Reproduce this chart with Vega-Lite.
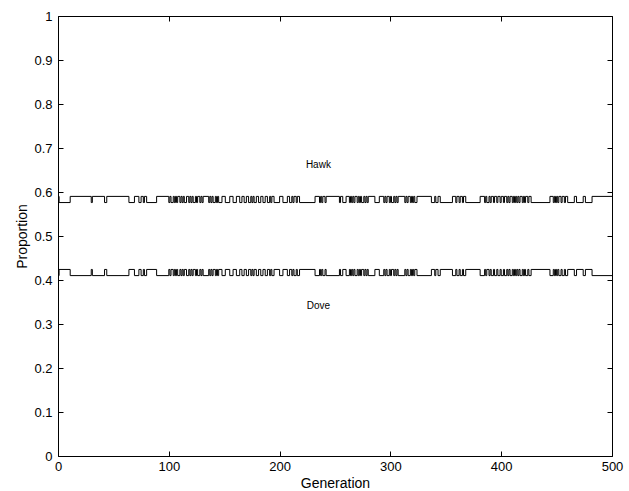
{
  "$schema": "https://vega.github.io/schema/vega-lite/v6.json",
  "width": 554,
  "height": 440,
  "autosize": "none",
  "padding": {"left": 58, "top": 16, "right": 17, "bottom": 35},
  "background": "white",
  "config": {
    "view": {"stroke": "black", "strokeWidth": 1},
    "font": "Liberation Sans",
    "axis": {
      "grid": false,
      "domain": false,
      "tickColor": "black",
      "tickSize": -5,
      "labelColor": "black",
      "labelFont": "Liberation Sans",
      "labelFontSize": 13,
      "titleFont": "Liberation Sans",
      "titleFontSize": 14,
      "titleFontWeight": "normal",
      "titleColor": "black"
    }
  },
  "datasets": {
    "series": [
      {"g": 0, "Hawk": 0.590, "Dove": 0.410},
      {"g": 1, "Hawk": 0.576, "Dove": 0.424},
      {"g": 11, "Hawk": 0.590, "Dove": 0.410},
      {"g": 30, "Hawk": 0.576, "Dove": 0.424},
      {"g": 31, "Hawk": 0.590, "Dove": 0.410},
      {"g": 42, "Hawk": 0.576, "Dove": 0.424},
      {"g": 44, "Hawk": 0.590, "Dove": 0.410},
      {"g": 64, "Hawk": 0.576, "Dove": 0.424},
      {"g": 69, "Hawk": 0.590, "Dove": 0.410},
      {"g": 73, "Hawk": 0.576, "Dove": 0.424},
      {"g": 75, "Hawk": 0.590, "Dove": 0.410},
      {"g": 77, "Hawk": 0.576, "Dove": 0.424},
      {"g": 78, "Hawk": 0.590, "Dove": 0.410},
      {"g": 80, "Hawk": 0.576, "Dove": 0.424},
      {"g": 89, "Hawk": 0.590, "Dove": 0.410},
      {"g": 100, "Hawk": 0.576, "Dove": 0.424},
      {"g": 101, "Hawk": 0.590, "Dove": 0.410},
      {"g": 102, "Hawk": 0.576, "Dove": 0.424},
      {"g": 104, "Hawk": 0.590, "Dove": 0.410},
      {"g": 105, "Hawk": 0.576, "Dove": 0.424},
      {"g": 106, "Hawk": 0.590, "Dove": 0.410},
      {"g": 107, "Hawk": 0.576, "Dove": 0.424},
      {"g": 108, "Hawk": 0.590, "Dove": 0.410},
      {"g": 110, "Hawk": 0.576, "Dove": 0.424},
      {"g": 111, "Hawk": 0.590, "Dove": 0.410},
      {"g": 112, "Hawk": 0.576, "Dove": 0.424},
      {"g": 113, "Hawk": 0.590, "Dove": 0.410},
      {"g": 114, "Hawk": 0.576, "Dove": 0.424},
      {"g": 116, "Hawk": 0.590, "Dove": 0.410},
      {"g": 118, "Hawk": 0.576, "Dove": 0.424},
      {"g": 119, "Hawk": 0.590, "Dove": 0.410},
      {"g": 120, "Hawk": 0.576, "Dove": 0.424},
      {"g": 121, "Hawk": 0.590, "Dove": 0.410},
      {"g": 122, "Hawk": 0.576, "Dove": 0.424},
      {"g": 124, "Hawk": 0.590, "Dove": 0.410},
      {"g": 125, "Hawk": 0.576, "Dove": 0.424},
      {"g": 126, "Hawk": 0.590, "Dove": 0.410},
      {"g": 128, "Hawk": 0.576, "Dove": 0.424},
      {"g": 129, "Hawk": 0.590, "Dove": 0.410},
      {"g": 130, "Hawk": 0.576, "Dove": 0.424},
      {"g": 131, "Hawk": 0.590, "Dove": 0.410},
      {"g": 136, "Hawk": 0.576, "Dove": 0.424},
      {"g": 137, "Hawk": 0.590, "Dove": 0.410},
      {"g": 138, "Hawk": 0.576, "Dove": 0.424},
      {"g": 139, "Hawk": 0.590, "Dove": 0.410},
      {"g": 140, "Hawk": 0.576, "Dove": 0.424},
      {"g": 142, "Hawk": 0.590, "Dove": 0.410},
      {"g": 143, "Hawk": 0.576, "Dove": 0.424},
      {"g": 144, "Hawk": 0.590, "Dove": 0.410},
      {"g": 145, "Hawk": 0.576, "Dove": 0.424},
      {"g": 148, "Hawk": 0.590, "Dove": 0.410},
      {"g": 151, "Hawk": 0.576, "Dove": 0.424},
      {"g": 155, "Hawk": 0.590, "Dove": 0.410},
      {"g": 158, "Hawk": 0.576, "Dove": 0.424},
      {"g": 161, "Hawk": 0.590, "Dove": 0.410},
      {"g": 164, "Hawk": 0.576, "Dove": 0.424},
      {"g": 166, "Hawk": 0.590, "Dove": 0.410},
      {"g": 168, "Hawk": 0.576, "Dove": 0.424},
      {"g": 170, "Hawk": 0.590, "Dove": 0.410},
      {"g": 172, "Hawk": 0.576, "Dove": 0.424},
      {"g": 174, "Hawk": 0.590, "Dove": 0.410},
      {"g": 175, "Hawk": 0.576, "Dove": 0.424},
      {"g": 176, "Hawk": 0.590, "Dove": 0.410},
      {"g": 177, "Hawk": 0.576, "Dove": 0.424},
      {"g": 179, "Hawk": 0.590, "Dove": 0.410},
      {"g": 181, "Hawk": 0.576, "Dove": 0.424},
      {"g": 183, "Hawk": 0.590, "Dove": 0.410},
      {"g": 185, "Hawk": 0.576, "Dove": 0.424},
      {"g": 187, "Hawk": 0.590, "Dove": 0.410},
      {"g": 189, "Hawk": 0.576, "Dove": 0.424},
      {"g": 191, "Hawk": 0.590, "Dove": 0.410},
      {"g": 192, "Hawk": 0.576, "Dove": 0.424},
      {"g": 193, "Hawk": 0.590, "Dove": 0.410},
      {"g": 195, "Hawk": 0.576, "Dove": 0.424},
      {"g": 200, "Hawk": 0.590, "Dove": 0.410},
      {"g": 203, "Hawk": 0.576, "Dove": 0.424},
      {"g": 207, "Hawk": 0.590, "Dove": 0.410},
      {"g": 209, "Hawk": 0.576, "Dove": 0.424},
      {"g": 211, "Hawk": 0.590, "Dove": 0.410},
      {"g": 212, "Hawk": 0.576, "Dove": 0.424},
      {"g": 213, "Hawk": 0.590, "Dove": 0.410},
      {"g": 215, "Hawk": 0.576, "Dove": 0.424},
      {"g": 216, "Hawk": 0.590, "Dove": 0.410},
      {"g": 218, "Hawk": 0.576, "Dove": 0.424},
      {"g": 232, "Hawk": 0.590, "Dove": 0.410},
      {"g": 236, "Hawk": 0.576, "Dove": 0.424},
      {"g": 237, "Hawk": 0.590, "Dove": 0.410},
      {"g": 238, "Hawk": 0.576, "Dove": 0.424},
      {"g": 239, "Hawk": 0.590, "Dove": 0.410},
      {"g": 241, "Hawk": 0.576, "Dove": 0.424},
      {"g": 242, "Hawk": 0.590, "Dove": 0.410},
      {"g": 254, "Hawk": 0.576, "Dove": 0.424},
      {"g": 255, "Hawk": 0.590, "Dove": 0.410},
      {"g": 257, "Hawk": 0.576, "Dove": 0.424},
      {"g": 260, "Hawk": 0.590, "Dove": 0.410},
      {"g": 263, "Hawk": 0.576, "Dove": 0.424},
      {"g": 264, "Hawk": 0.590, "Dove": 0.410},
      {"g": 265, "Hawk": 0.576, "Dove": 0.424},
      {"g": 266, "Hawk": 0.590, "Dove": 0.410},
      {"g": 267, "Hawk": 0.576, "Dove": 0.424},
      {"g": 268, "Hawk": 0.590, "Dove": 0.410},
      {"g": 270, "Hawk": 0.576, "Dove": 0.424},
      {"g": 271, "Hawk": 0.590, "Dove": 0.410},
      {"g": 272, "Hawk": 0.576, "Dove": 0.424},
      {"g": 273, "Hawk": 0.590, "Dove": 0.410},
      {"g": 274, "Hawk": 0.576, "Dove": 0.424},
      {"g": 276, "Hawk": 0.590, "Dove": 0.410},
      {"g": 277, "Hawk": 0.576, "Dove": 0.424},
      {"g": 278, "Hawk": 0.590, "Dove": 0.410},
      {"g": 279, "Hawk": 0.576, "Dove": 0.424},
      {"g": 280, "Hawk": 0.590, "Dove": 0.410},
      {"g": 286, "Hawk": 0.576, "Dove": 0.424},
      {"g": 290, "Hawk": 0.590, "Dove": 0.410},
      {"g": 294, "Hawk": 0.576, "Dove": 0.424},
      {"g": 295, "Hawk": 0.590, "Dove": 0.410},
      {"g": 296, "Hawk": 0.576, "Dove": 0.424},
      {"g": 297, "Hawk": 0.590, "Dove": 0.410},
      {"g": 299, "Hawk": 0.576, "Dove": 0.424},
      {"g": 300, "Hawk": 0.590, "Dove": 0.410},
      {"g": 301, "Hawk": 0.576, "Dove": 0.424},
      {"g": 303, "Hawk": 0.590, "Dove": 0.410},
      {"g": 304, "Hawk": 0.576, "Dove": 0.424},
      {"g": 305, "Hawk": 0.590, "Dove": 0.410},
      {"g": 306, "Hawk": 0.576, "Dove": 0.424},
      {"g": 307, "Hawk": 0.590, "Dove": 0.410},
      {"g": 313, "Hawk": 0.576, "Dove": 0.424},
      {"g": 314, "Hawk": 0.590, "Dove": 0.410},
      {"g": 315, "Hawk": 0.576, "Dove": 0.424},
      {"g": 316, "Hawk": 0.590, "Dove": 0.410},
      {"g": 318, "Hawk": 0.576, "Dove": 0.424},
      {"g": 319, "Hawk": 0.590, "Dove": 0.410},
      {"g": 320, "Hawk": 0.576, "Dove": 0.424},
      {"g": 321, "Hawk": 0.590, "Dove": 0.410},
      {"g": 322, "Hawk": 0.576, "Dove": 0.424},
      {"g": 324, "Hawk": 0.590, "Dove": 0.410},
      {"g": 337, "Hawk": 0.576, "Dove": 0.424},
      {"g": 340, "Hawk": 0.590, "Dove": 0.410},
      {"g": 341, "Hawk": 0.576, "Dove": 0.424},
      {"g": 343, "Hawk": 0.590, "Dove": 0.410},
      {"g": 345, "Hawk": 0.576, "Dove": 0.424},
      {"g": 356, "Hawk": 0.590, "Dove": 0.410},
      {"g": 359, "Hawk": 0.576, "Dove": 0.424},
      {"g": 360, "Hawk": 0.590, "Dove": 0.410},
      {"g": 362, "Hawk": 0.576, "Dove": 0.424},
      {"g": 363, "Hawk": 0.590, "Dove": 0.410},
      {"g": 365, "Hawk": 0.576, "Dove": 0.424},
      {"g": 366, "Hawk": 0.590, "Dove": 0.410},
      {"g": 368, "Hawk": 0.576, "Dove": 0.424},
      {"g": 381, "Hawk": 0.590, "Dove": 0.410},
      {"g": 385, "Hawk": 0.576, "Dove": 0.424},
      {"g": 386, "Hawk": 0.590, "Dove": 0.410},
      {"g": 387, "Hawk": 0.576, "Dove": 0.424},
      {"g": 389, "Hawk": 0.590, "Dove": 0.410},
      {"g": 390, "Hawk": 0.576, "Dove": 0.424},
      {"g": 391, "Hawk": 0.590, "Dove": 0.410},
      {"g": 393, "Hawk": 0.576, "Dove": 0.424},
      {"g": 394, "Hawk": 0.590, "Dove": 0.410},
      {"g": 396, "Hawk": 0.576, "Dove": 0.424},
      {"g": 397, "Hawk": 0.590, "Dove": 0.410},
      {"g": 399, "Hawk": 0.576, "Dove": 0.424},
      {"g": 400, "Hawk": 0.590, "Dove": 0.410},
      {"g": 402, "Hawk": 0.576, "Dove": 0.424},
      {"g": 403, "Hawk": 0.590, "Dove": 0.410},
      {"g": 405, "Hawk": 0.576, "Dove": 0.424},
      {"g": 406, "Hawk": 0.590, "Dove": 0.410},
      {"g": 407, "Hawk": 0.576, "Dove": 0.424},
      {"g": 408, "Hawk": 0.590, "Dove": 0.410},
      {"g": 410, "Hawk": 0.576, "Dove": 0.424},
      {"g": 411, "Hawk": 0.590, "Dove": 0.410},
      {"g": 412, "Hawk": 0.576, "Dove": 0.424},
      {"g": 413, "Hawk": 0.590, "Dove": 0.410},
      {"g": 414, "Hawk": 0.576, "Dove": 0.424},
      {"g": 415, "Hawk": 0.590, "Dove": 0.410},
      {"g": 416, "Hawk": 0.576, "Dove": 0.424},
      {"g": 417, "Hawk": 0.590, "Dove": 0.410},
      {"g": 419, "Hawk": 0.576, "Dove": 0.424},
      {"g": 420, "Hawk": 0.590, "Dove": 0.410},
      {"g": 421, "Hawk": 0.576, "Dove": 0.424},
      {"g": 422, "Hawk": 0.590, "Dove": 0.410},
      {"g": 424, "Hawk": 0.576, "Dove": 0.424},
      {"g": 425, "Hawk": 0.590, "Dove": 0.410},
      {"g": 427, "Hawk": 0.576, "Dove": 0.424},
      {"g": 444, "Hawk": 0.590, "Dove": 0.410},
      {"g": 447, "Hawk": 0.576, "Dove": 0.424},
      {"g": 448, "Hawk": 0.590, "Dove": 0.410},
      {"g": 449, "Hawk": 0.576, "Dove": 0.424},
      {"g": 450, "Hawk": 0.590, "Dove": 0.410},
      {"g": 451, "Hawk": 0.576, "Dove": 0.424},
      {"g": 452, "Hawk": 0.590, "Dove": 0.410},
      {"g": 454, "Hawk": 0.576, "Dove": 0.424},
      {"g": 455, "Hawk": 0.590, "Dove": 0.410},
      {"g": 457, "Hawk": 0.576, "Dove": 0.424},
      {"g": 458, "Hawk": 0.590, "Dove": 0.410},
      {"g": 460, "Hawk": 0.576, "Dove": 0.424},
      {"g": 466, "Hawk": 0.590, "Dove": 0.410},
      {"g": 468, "Hawk": 0.576, "Dove": 0.424},
      {"g": 474, "Hawk": 0.590, "Dove": 0.410},
      {"g": 476, "Hawk": 0.576, "Dove": 0.424},
      {"g": 482, "Hawk": 0.590, "Dove": 0.410},
      {"g": 500, "Hawk": 0.590, "Dove": 0.410}
    ],
    "labels": [
      {"g": 235, "p": 0.662, "t": "Hawk"},
      {"g": 235, "p": 0.341, "t": "Dove"}
    ]
  },
  "layer": [
    {
      "data": {"name": "series"},
      "transform": [{"fold": ["Hawk", "Dove"], "as": ["species", "proportion"]}],
      "mark": {"type": "line", "interpolate": "step-after", "color": "black", "strokeWidth": 1, "clip": true},
      "encoding": {
        "x": {"field": "g", "type": "quantitative", "scale": {"domain": [0, 500], "nice": false},
              "axis": {"title": "Generation", "values": [0, 100, 200, 300, 400, 500], "labelPadding": 9, "titlePadding": 3, "labelFlush": false}},
        "y": {"field": "proportion", "type": "quantitative", "scale": {"domain": [0, 1], "nice": false, "zero": false},
              "axis": {"title": "Proportion", "values": [0, 0.1, 0.2, 0.3, 0.4, 0.5, 0.6, 0.7, 0.8, 0.9, 1], "labelPadding": 11, "titlePadding": 4, "labelFlush": false,
                       "labelExpr": "datum.value == 0 ? '0' : datum.value == 1 ? '1' : format(datum.value, '.1f')"}},
        "detail": {"field": "species", "type": "nominal"}
      }
    },
    {
      "data": {"name": "labels"},
      "mark": {"type": "text", "font": "Liberation Sans", "fontSize": 10, "color": "black", "align": "center", "baseline": "middle"},
      "encoding": {
        "x": {"field": "g", "type": "quantitative", "axis": {"orient": "top", "labels": false, "title": null, "values": [0, 100, 200, 300, 400, 500]}},
        "y": {"field": "p", "type": "quantitative", "axis": {"orient": "right", "labels": false, "title": null, "values": [0, 0.1, 0.2, 0.3, 0.4, 0.5, 0.6, 0.7, 0.8, 0.9, 1]}},
        "text": {"field": "t"}
      }
    }
  ],
  "resolve": {"axis": {"x": "independent", "y": "independent"}}
}
